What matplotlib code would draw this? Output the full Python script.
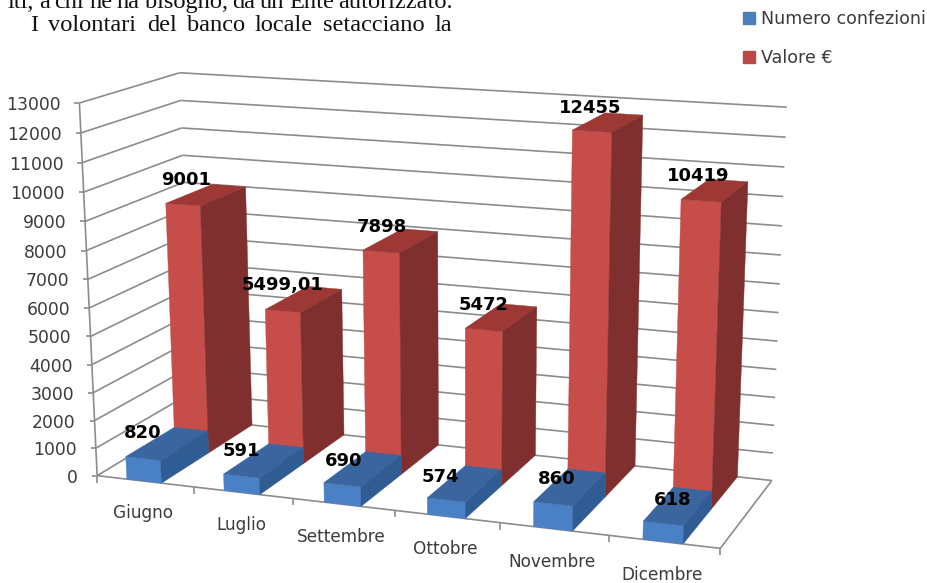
import numpy as np
import matplotlib
matplotlib.use("Agg")
import matplotlib.pyplot as plt
from matplotlib.patches import Patch

months = ["Giugno", "Luglio", "Settembre", "Ottobre", "Novembre", "Dicembre"]
confezioni = [820, 591, 690, 574, 860, 618]
valore = [9001, 5499.01, 7898, 5472, 12455, 10419]
valore_labels = ["9001", "5499,01", "7898", "5472", "12455", "10419"]
y_ticks = list(range(0, 14000, 1000))
y_max = 13000

line1 = ["iti,", "a", "chi", "ne", "ha", "bisogno,", "da", "un", "Ente", "autorizzato."]
line1_x = [8, 39, 54, 89, 117, 145, 232, 260, 289, 338]
line2 = ["I", "volontari", "del", "banco", "locale", "setacciano", "la"]
line2_x = [30, 48, 147, 187, 255, 323, 435]

# label nudges in pixels, the originals were placed by hand
red_dx = [-20, -22, -19, -18, -18, -17]
red_dy = [-15, -14, -14, -12, -14, -14]
blue_dx = [-25, -23, -19.6, -24.4, -14, -6]
blue_dy = [-11, -10, -8, -6, -8, -6]

BLUE = ("#4a80c6", "#3a659f", "#305c94")
RED = ("#c64d49", "#9d3834", "#7f302e")
GRID = "#8c8c8c"
TEXT = "#3c3c3c"

# box corners on the page, (across, depth, height) -> pixel, used to fit the camera
box = np.array([[0, 0, 0], [0, 0, 1], [0, 1, 1], [0, 1, 0], [1, 1, 0], [1, 1, 1], [1, 0, 0]], float)
page = np.array([[95, 475], [81, 104], [178, 72], [194, 419], [771, 481], [787, 107], [721, 548]], float)

rows = []
for (a, b, c), (x, y) in zip(box, page):
    rows.append([a, b, c, 1, 0, 0, 0, 0, -x * a, -x * b, -x * c, -x])
    rows.append([0, 0, 0, 0, a, b, c, 1, -y * a, -y * b, -y * c, -y])
cam = np.linalg.svd(np.array(rows))[2][-1].reshape(3, 4)


def pt(u, d, v):
    p = cam @ np.array([u, d, v / y_max, 1.0])
    return p[0] / p[2], p[1] / p[2]


fig = plt.figure(figsize=(9.28, 5.83), dpi=100)
ax = fig.add_axes([0, 0, 1, 1])
ax.set_xlim(0, 928)
ax.set_ylim(583, 0)
ax.axis("off")


def line(a, b, lw=1.2):
    ax.plot([a[0], b[0]], [a[1], b[1]], color=GRID, lw=lw, solid_capstyle="butt", zorder=1)


# walls and floor
for t in y_ticks:
    line(pt(0, 0, t), pt(0, 1, t))
    line(pt(0, 1, t), pt(1, 1, t))
    x, y = pt(0, 0, t)
    line((x - 5, y), (x, y))
    ax.text(x - 19, y + 2, str(t), ha="right", va="center", fontsize=12.4, color=TEXT)
line(pt(0, 0, 0), pt(0, 0, y_max))
line(pt(0, 0, 0), pt(1, 0, 0))
line(pt(1, 0, 0), pt(1, 1, 0))

n = len(months)
for i in range(n + 1):
    x, y = pt(i / n, 0, 0)
    line((x, y), (x, y + 7))


def bar(i, d0, d1, value, cols):
    u0 = (i + 0.31) / n
    u1 = (i + 0.67) / n
    front = [pt(u0, d0, 0), pt(u1, d0, 0), pt(u1, d0, value), pt(u0, d0, value)]
    top = [pt(u0, d0, value), pt(u1, d0, value), pt(u1, d1, value), pt(u0, d1, value)]
    side = [pt(u1, d0, 0), pt(u1, d1, 0), pt(u1, d1, value), pt(u1, d0, value)]
    for poly, c in zip((front, top, side), cols):
        ax.fill(*zip(*poly), color=c, lw=0.3, zorder=2)


for i in range(n):
    bar(i, 0.5, 1.0, valore[i], RED)
    bar(i, 0.0, 0.5, confezioni[i], BLUE)

# data labels sit up and to the left of the top face
for i in range(n):
    x, y = pt((i + 0.49) / n, 0.75, valore[i])
    ax.text(x + red_dx[i], y + red_dy[i], valore_labels[i], ha="center", va="center",
            fontsize=13, fontweight="bold", color="black", zorder=5)
    x, y = pt((i + 0.49) / n, 0.25, confezioni[i])
    ax.text(x + blue_dx[i], y + blue_dy[i], str(confezioni[i]), ha="center", va="center",
            fontsize=13, fontweight="bold", color="black", zorder=5)

for i, m in enumerate(months):
    x, y = pt((i + 0.5) / n, 0, 0)
    ax.text(x - 2, y + 32 + 0.2 * i, m, ha="center", va="center", fontsize=12.2, color=TEXT)

ax.legend(handles=[Patch(color="#4a80b8", label="Numero confezioni"), Patch(color="#bb4a46", label="Valore €")],
          loc="upper left", bbox_to_anchor=(738 / 928, 1 - 5 / 583), frameon=False,
          handlelength=0.65, handleheight=0.65, handletextpad=0.35, labelspacing=1.2,
          fontsize=12.6, labelcolor=TEXT, borderpad=0.3, borderaxespad=0)

# newspaper text cut off above the chart
for word, wx in zip(line1, line1_x):
    ax.text(wx, 8, word, family="Liberation Serif", fontsize=17.6, va="baseline", color="#111111")
for word, wx in zip(line2, line2_x):
    ax.text(wx, 31, word, family="Liberation Serif", fontsize=17.6, va="baseline", color="#111111")

fig.savefig("out.png", dpi=100)
